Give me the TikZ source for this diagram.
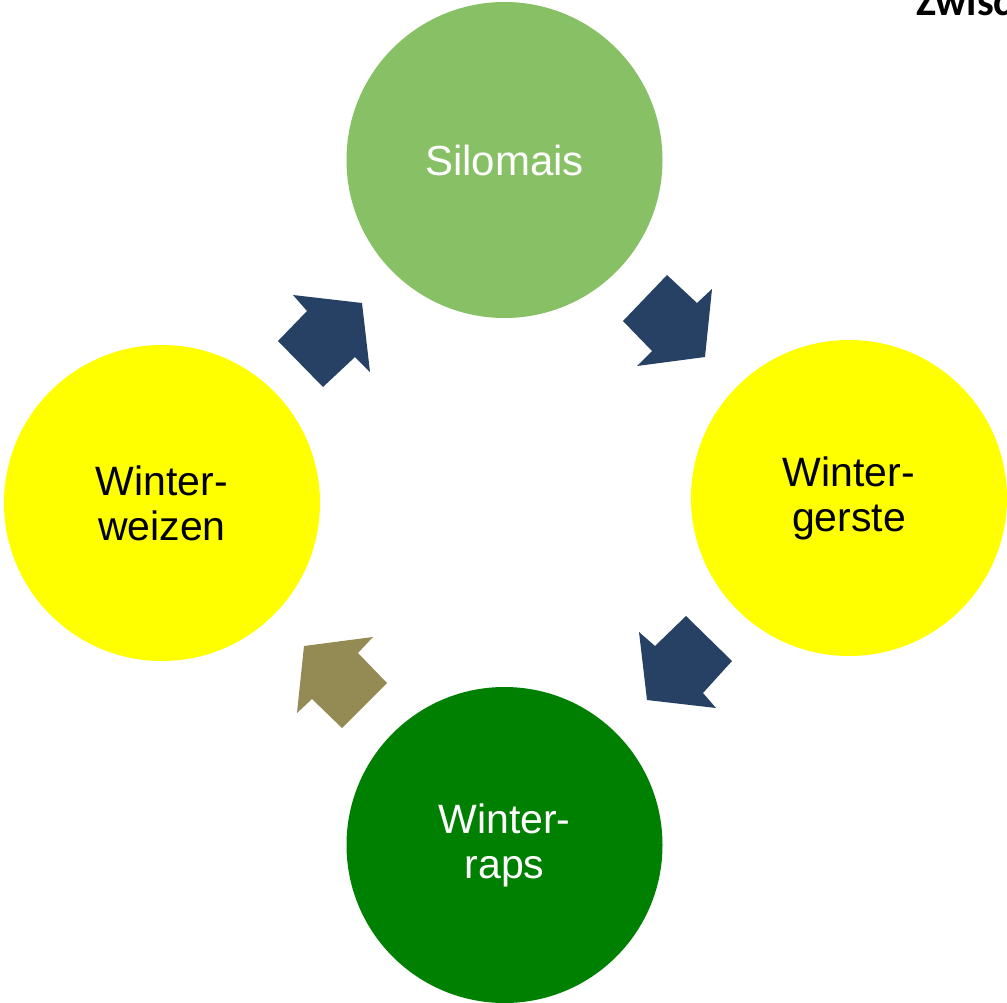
\documentclass[tikz,border=0pt]{standalone}
\usepackage{fontspec}
\setmainfont{Liberation Sans}
\newfontfamily\calibri{Carlito}
\definecolor{silo}{RGB}{136,192,102}
\definecolor{yel}{RGB}{255,255,0}
\definecolor{dgreen}{RGB}{0,128,0}
\definecolor{navy}{RGB}{38,65,100}
\definecolor{olive}{RGB}{148,138,84}
\begin{document}
\begin{tikzpicture}[x=1pt,y=-1pt,
  crop/.style={circle,minimum size=316pt,inner sep=0pt,align=center,
    font=\fontsize{41}{45}\selectfont},
  arr/.style={fill=navy,draw=none}]
\useasboundingbox (0,0) rectangle (1007,1002);
\clip (0,0) rectangle (1007,1002);
\fill[white] (0,0) rectangle (1007,1002);
\node[crop,fill=silo,text=white,font=\fontsize{42}{45}\selectfont] (silo) at (504.5,160) {Silomais};
\node[crop,fill=yel,text=black] (gerste) at (849,498) {Winter-\\gerste};
\node[crop,fill=yel,text=black] (weizen) at (162,503) {Winter-\\weizen};
\node[crop,fill=dgreen,text=white] (raps) at (504.5,845) {Winter-\\raps};
% arrows
\fill[arr] (293,295) -- (362,303) -- (370,372) -- (355,357) -- (323,387) -- (278,341) -- (307,311) -- cycle;
\fill[arr] (667,275) -- (697,303) -- (712,289) -- (705,357) -- (637,366) -- (652,351) -- (623,321) -- cycle;
\fill[arr] (686,616) -- (732,661) -- (703,693) -- (716,708) -- (647,700) -- (639,632) -- (655,646) -- cycle;
\fill[olive] (373,637) -- (358,653) -- (387,683) -- (342,728) -- (312,699) -- (297,713) -- (304,646) -- cycle;
\node[anchor=base west,inner sep=0pt,font=\calibri\bfseries\fontsize{42}{48}\selectfont] (zw) at (916,15) {Zwischenfrucht};
\end{tikzpicture}
\end{document}
